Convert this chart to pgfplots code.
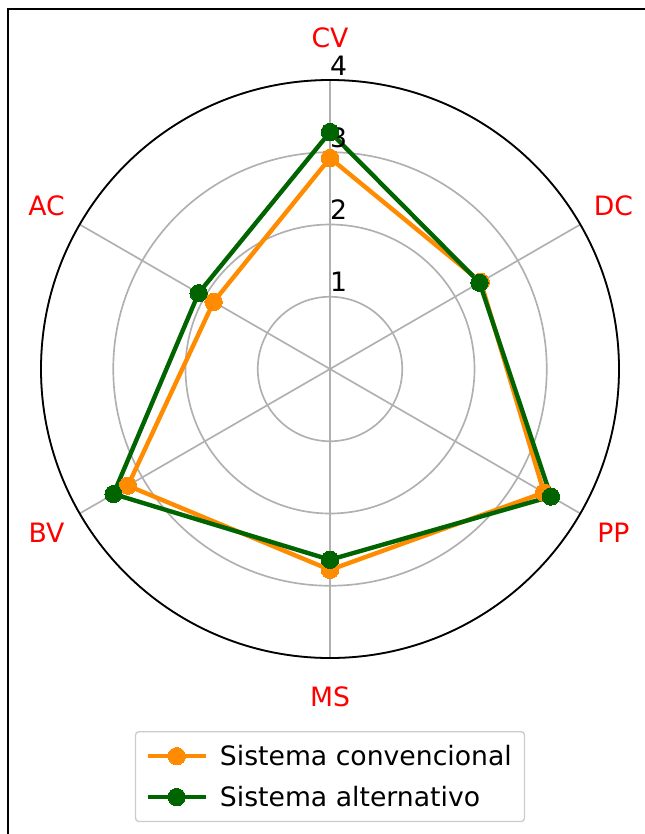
\documentclass[border=0pt]{standalone}
\usepackage{fontspec}
\setmainfont{DejaVu Sans}
\usepackage{pgfplots}
\pgfplotsset{compat=1.18}
\usepgfplotslibrary{polar}
\definecolor{conv}{HTML}{FF8C00}
\definecolor{alt}{HTML}{006400}
\definecolor{gridgray}{HTML}{B0B0B0}
\definecolor{legframe}{HTML}{CCCCCC}
\begin{document}
\begin{tikzpicture}
\draw[line width=1.5pt] (6pt,-900pt) -- (6pt,-6.75pt) -- (700pt,-6.75pt);
\begin{polaraxis}[
  scale only axis, width=433.5pt, height=433.5pt,
  at={(247.5pt,-276.75pt)}, anchor=center,
  ymin=0, ymax=4,
  xtick={30,90,150,210,270,330}, xticklabels={},
  ytick={1,2,3,4}, yticklabels={},
  major tick length=0pt,
  grid=major,
  major grid style={draw=gridgray, line width=1.25pt},
  axis line style={black, line width=1.35pt},
  y axis line style={draw=none},
  clip=false,
  legend cell align=left,
  legend style={at={(0.5,-0.1263)}, anchor=north, draw=legframe, line width=1pt,
    rounded corners=2.5pt, fill=white, font=\fontsize{20}{24}\selectfont,
    inner xsep=7.5pt, inner ysep=8pt, row sep=10pt,
    /tikz/every odd column/.append style={column sep=7pt}},
  legend image code/.code={\draw[mark repeat=2,mark phase=2,#1] plot coordinates {(0pt,0pt)(21.75pt,0pt)(43.5pt,0pt)};},
  every axis plot/.append style={line width=3.3pt, mark=*, mark size=6.5pt},
]
\addplot[conv, mark options={fill=conv, draw=conv, line width=0pt}] coordinates {
  (90,2.92) (30,2.41) (330,3.42) (270,2.78) (210,3.23) (150,1.86) (90,2.92)};
\addlegendentry{Sistema convencional}
\addplot[alt, mark options={fill=alt, draw=alt, line width=0pt}] coordinates {
  (90,3.28) (30,2.39) (330,3.53) (270,2.64) (210,3.46) (150,2.10) (90,3.28)};
\addlegendentry{Sistema alternativo}
\begin{scope}[font=\fontsize{20}{24}\selectfont, every node/.append style={inner sep=0pt}]
\node[text=red] at (axis cs:90,4.58) {CV};
\node[text=red] at (axis cs:30,4.53) {DC};
\node[text=red] at (axis cs:330,4.53) {PP};
\node[text=red] at (axis cs:270,4.53) {MS};
\node[text=red] at (axis cs:210,4.53) {BV};
\node[text=red] at (axis cs:150,4.53) {AC};
\node[xshift=6.5pt, yshift=10.9pt] at (axis cs:90,1) {1};
\node[xshift=6.5pt, yshift=10.9pt] at (axis cs:90,2) {2};
\node[xshift=6.5pt, yshift=10.9pt] at (axis cs:90,3) {3};
\node[xshift=6.5pt, yshift=10.5pt] at (axis cs:90,4) {4};
\end{scope}
\end{polaraxis}
\pgfresetboundingbox
\path[use as bounding box] (0pt,0pt) rectangle (483.75pt,-625.5pt);
\end{tikzpicture}
\end{document}
